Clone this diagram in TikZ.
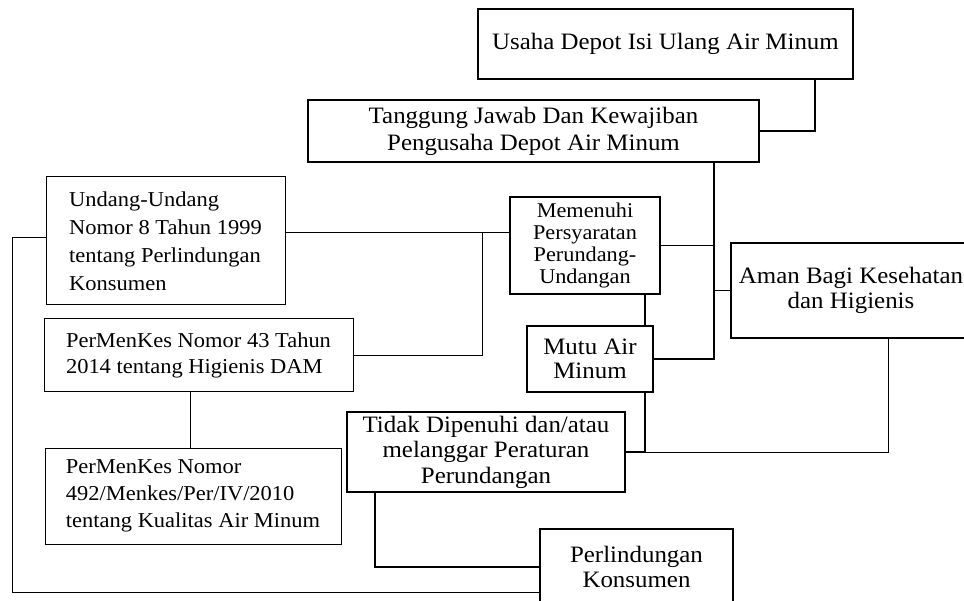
\documentclass[tikz,border=0pt]{standalone}
\usepackage{fontspec}
\setmainfont{Liberation Serif}[FakeStretch=1.06]
\begin{document}
\begin{tikzpicture}[x=1pt,y=-1pt,
  thickbox/.style={draw, line width=1.8pt, inner sep=0pt, align=center, font=\fontsize{23.5}{25.5}\selectfont},
  thinbox/.style={draw, line width=1pt, inner sep=0pt, align=left, font=\fontsize{21.2}{27}\selectfont},
  thickline/.style={line width=1.8pt},
  thinline/.style={line width=1pt}]
\useasboundingbox (0,0) rectangle (964,601);

\node[thickbox, minimum width=375pt, minimum height=70pt] (usaha) at (665.5,44) {Usaha Depot Isi Ulang Air Minum};
\node[thickbox, minimum width=451pt, minimum height=62pt, font=\fontsize{23.5}{27}\selectfont] (tanggung) at (533.5,131) {Tanggung Jawab Dan Kewajiban\\Pengusaha Depot Air Minum};
\node[thickbox, minimum width=150pt, minimum height=97pt, font=\fontsize{21}{22.3}\selectfont] (memenuhi) at (585,245.5) {Memenuhi\\Persyaratan\\Perundang-\\Undangan};
\node[thickbox, minimum width=126pt, minimum height=66pt, font=\fontsize{23.5}{24}\selectfont] (mutu) at (590,359) {Mutu Air\\Minum};
\node[thickbox, minimum width=240pt, minimum height=95pt, font=\fontsize{23.5}{25}\selectfont] (aman) at (851,290.5) {Aman Bagi Kesehatan\\dan Higienis};
\node[thickbox, minimum width=278pt, minimum height=80pt] (tidak) at (486,452) {Tidak Dipenuhi dan/atau\\melanggar Peraturan\\Perundangan};
\node[thickbox, minimum width=193pt, minimum height=75pt, font=\fontsize{23.5}{25}\selectfont] (perl) at (636.5,566.5) {Perlindungan\\Konsumen};

\node[thinbox, minimum width=239pt, minimum height=128pt, font=\fontsize{21.2}{28}\selectfont] (undang) at (165.5,241) {Undang-Undang\\Nomor 8 Tahun 1999\\tentang Perlindungan\\Konsumen};
\node[thinbox, minimum width=309pt, minimum height=73pt, font=\fontsize{21.2}{26}\selectfont] (pmk43) at (198.5,355.5) {PerMenKes Nomor 43 Tahun\\2014 tentang Higienis DAM};
\node[thinbox, minimum width=296pt, minimum height=96pt] (pmk492) at (193,496) {PerMenKes Nomor\\492/Menkes/Per/IV/2010\\tentang Kualitas Air Minum};

\coordinate (uj) at (815,131);
\coordinate (sp) at (714,359);
\coordinate (mm) at (645,0);
\coordinate (td) at (645,452);
\coordinate (ab) at (888,452);
\coordinate (tp) at (375,567);
\coordinate (uy) at (482,233);
\coordinate (pv) at (190,0);
\coordinate (ol) at (12,238);
\coordinate (ob) at (12,592);

\draw[thickline] (usaha.south -| uj) -- (uj) -- (tanggung.east);
\draw[thickline] (tanggung.south -| sp) -- (sp) -- (mutu.east);
\draw[thickline] (memenuhi.east) -- (memenuhi.east -| sp);
\draw[thickline] (aman.west) -- (aman.west -| sp);
\draw[thickline] (memenuhi.south -| mm) -- (mutu.north -| mm);
\draw[thickline] (mutu.south -| td) -- (td) -- (tidak.east);
\draw[thinline] (aman.south -| ab) -- (ab) -- (td);
\draw[thickline] (tidak.south -| tp) -- (tp) -- (perl.west |- tp);
\draw[thinline] (undang.east |- uy) -- (memenuhi.west |- uy);
\draw[thinline] (uy) -- (uy |- pmk43.east) -- (pmk43.east);
\draw[thinline] (pmk43.south -| pv) -- (pmk492.north -| pv);
\draw[thinline] (undang.west |- ol) -- (ol) -- (ob) -- (perl.west |- ob);
\end{tikzpicture}
\end{document}
